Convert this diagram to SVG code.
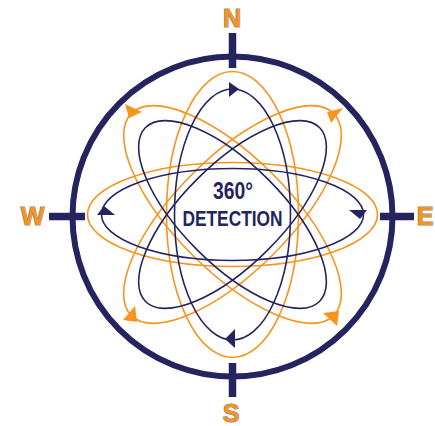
<svg xmlns="http://www.w3.org/2000/svg" width="435" height="426" viewBox="0 0 435 426">
<style>
.nv{fill:none;stroke:#25245e;stroke-width:1.6}
.or{fill:none;stroke:#f7941d;stroke-width:1.6}
.nvf{fill:#25245e}
.orf{fill:#f7941d}
.dir{font-family:"Liberation Sans",Arial,sans-serif;font-weight:bold;font-size:25px;fill:#f7941d;stroke:#8a8a8a;stroke-width:1.2;paint-order:stroke;text-anchor:middle}
.ctr{font-family:"Liberation Sans",Arial,sans-serif;font-weight:bold;fill:#25245e;text-anchor:middle}
</style>
<rect width="435" height="426" fill="#fff"/>
<g id="compass">
<circle cx="232.5" cy="216.5" r="160" fill="none" stroke="#25245e" stroke-width="6"/>
<path d="M232.5 33V68M232.5 363V397M49 216.5H85M380 216.5H414" stroke="#25245e" stroke-width="7.5" fill="none"/>
</g>
<g id="orange-orbits">
<ellipse class="or" cx="232.5" cy="214.5" rx="145" ry="52"/>
<ellipse class="or" cx="232.5" cy="214.5" rx="66" ry="143"/>
<ellipse class="or" cx="232.5" cy="214.5" rx="143" ry="57" transform="rotate(45 232.5 214.5)"/>
<ellipse class="or" cx="232.5" cy="214.5" rx="143" ry="57" transform="rotate(-45 232.5 214.5)"/>
<polygon class="orf" points="125,104 129,118 142,112"/>
<polygon class="orf" points="343,108 327,112 331,123"/>
<polygon class="orf" points="123,320 135,306 137,322"/>
<polygon class="orf" points="337,326 323,313 339,311"/>
</g>
<g id="navy-orbits">
<ellipse class="nv" cx="232.5" cy="214.5" rx="131" ry="46"/>
<ellipse class="nv" cx="232.5" cy="214.5" rx="58" ry="125.5"/>
<ellipse class="nv" cx="232.5" cy="214.5" rx="123" ry="50" transform="rotate(45 232.5 214.5)"/>
<ellipse class="nv" cx="232.5" cy="214.5" rx="123" ry="50" transform="rotate(-45 232.5 214.5)"/>
<polygon class="nvf" points="229,82 229,97 239,89"/>
<polygon class="nvf" points="225,339 235,329 235,348"/>
<polygon class="nvf" points="104,206 97,215 115,215"/>
<polygon class="nvf" points="360,219 349,210 367,210"/>
</g>
<g id="labels">
<text class="dir" x="232" y="27">N</text>
<text class="dir" x="32.5" y="225">W</text>
<text class="dir" x="425" y="225">E</text>
<text class="dir" x="231" y="422">S</text>
</g>
<g id="center-label">
<text class="ctr" x="233" y="199" font-size="23" textLength="40" lengthAdjust="spacingAndGlyphs">360°</text>
<text class="ctr" x="232.5" y="225.5" font-size="22" textLength="100" lengthAdjust="spacingAndGlyphs">DETECTION</text>
</g>
</svg>
